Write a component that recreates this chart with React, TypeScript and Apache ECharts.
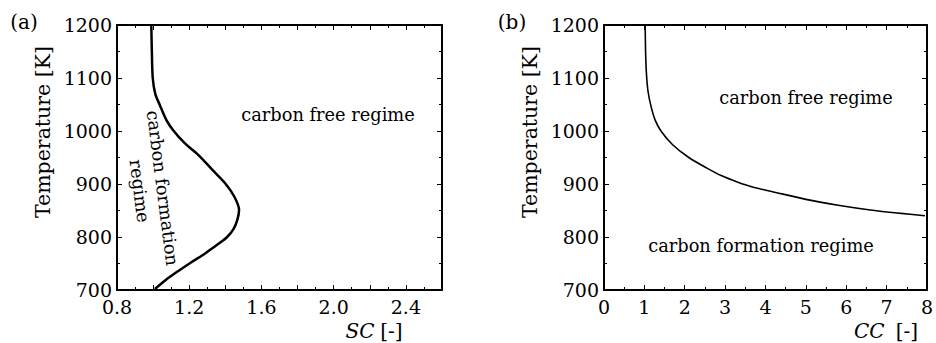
import React, { useEffect, useRef } from "react";
import * as echarts from "echarts";

// Panel (a): steam-to-carbon ratio boundary
const scRatio = [0.99, 0.993, 0.998, 1.012, 1.036, 1.073, 1.11, 1.175, 1.25, 1.33, 1.4, 1.45, 1.476, 1.466, 1.445, 1.41, 1.37, 1.32, 1.28, 1.21, 1.14, 1.07, 1.01];
const scTemp = [1200, 1150, 1100, 1070, 1050, 1021, 1002, 977, 955, 926, 901, 876, 851, 832, 815, 800, 789, 777, 767, 752, 736, 719, 702];

// Panel (b): CC ratio boundary
const ccRatio = [1.02, 1.03, 1.05, 1.09, 1.17, 1.27, 1.42, 1.7, 2.1, 2.55, 2.9, 3.3, 3.7, 4.15, 5.0, 5.8, 6.6, 7.3, 7.95];
const ccTemp = [1200, 1150, 1110, 1075, 1045, 1020, 999, 974, 950, 930, 916, 904, 894, 886, 871, 860, 851, 845, 840];

const tempTicks = { min: 700, max: 1200, interval: 100 };
const scTicks = { min: 0.8, max: 2.6, interval: 0.2, labelStep: 0.4 };
const ccTicks = { min: 0, max: 8, interval: 1 };

const FONT = "DejaVu Serif";

export default function App() {
  const ref = useRef<HTMLDivElement>(null);

  useEffect(() => {
    if (!ref.current) return;
    const chart = echarts.init(ref.current, null, { renderer: "svg" });

    const lineStyle = { color: "#000", width: 2 };
    const tick = { show: true, inside: true, length: 5, lineStyle: { color: "#000", width: 1 } };
    const minor = { show: true, splitNumber: 2, length: 3, lineStyle: { color: "#000", width: 1 } };
    const label = { color: "#000", fontSize: 19, fontFamily: FONT };

    const xAxisBase = (gridIndex: number, position: string, t: any, formatter: any, show: boolean) => ({
      type: "value",
      gridIndex,
      position,
      min: t.min,
      max: t.max,
      interval: t.interval,
      axisLine: { show: true, onZero: false, lineStyle },
      axisTick: tick,
      minorTick: minor,
      splitLine: { show: false },
      minorSplitLine: { show: false },
      axisLabel: show ? { ...label, margin: 7, formatter } : { show: false },
    });
    const yAxisBase = (gridIndex: number, position: string, show: boolean) => ({
      type: "value",
      gridIndex,
      position,
      min: tempTicks.min,
      max: tempTicks.max,
      interval: tempTicks.interval,
      axisLine: { show: true, onZero: false, lineStyle },
      axisTick: tick,
      minorTick: minor,
      splitLine: { show: false },
      minorSplitLine: { show: false },
      axisLabel: show ? { ...label, margin: 5, formatter: (v: number) => String(v) } : { show: false },
    });

    const scFmt = (v: number) => {
      const k = Math.round(v * 10);
      return k % Math.round(scTicks.labelStep * 10) === 0 ? v.toFixed(1) : "";
    };
    const ccFmt = (v: number) => String(v);

    const text = (x: number, y: number, s: any, extra: any = {}) => ({
      type: "text",
      x,
      y,
      ...extra,
      style: {
        text: s,
        fill: "#000",
        fontSize: 17.8,
        fontFamily: FONT,
        align: "center",
        verticalAlign: "middle",
        ...(extra.style || {}),
      },
    });
    const rot = -1.4434;
    const italic = { fontStyle: "italic", fontSize: 20, fontFamily: FONT, fill: "#000" };
    const plain = { fontSize: 20, fontFamily: FONT, fill: "#000" };

    chart.setOption({
      animation: false,
      grid: [
        { left: 117, top: 25, width: 325, height: 265 },
        { left: 604, top: 25, width: 326, height: 265 },
      ],
      xAxis: [
        xAxisBase(0, "bottom", scTicks, scFmt, true),
        xAxisBase(0, "top", scTicks, scFmt, false),
        xAxisBase(1, "bottom", ccTicks, ccFmt, true),
        xAxisBase(1, "top", ccTicks, ccFmt, false),
      ],
      yAxis: [
        yAxisBase(0, "left", true),
        yAxisBase(0, "right", false),
        yAxisBase(1, "left", true),
        yAxisBase(1, "right", false),
      ],
      series: [
        {
          type: "line",
          xAxisIndex: 0,
          yAxisIndex: 0,
          data: scRatio.map((x, i) => [x, scTemp[i]]),
          showSymbol: false,
          smooth: 0.3,
          lineStyle: { color: "#000", width: 2.5 },
        },
        {
          type: "line",
          xAxisIndex: 2,
          yAxisIndex: 2,
          data: ccRatio.map((x, i) => [x, ccTemp[i]]),
          showSymbol: false,
          smooth: 0.3,
          lineStyle: { color: "#000", width: 1.6 },
        },
      ],
      graphic: [
        text(24, 22, "(a)", { style: { fontSize: 20 } }),
        text(512, 22, "(b)", { style: { fontSize: 20 } }),
        text(43, 132, "Temperature [K]", { rotation: Math.PI / 2, style: { fontSize: 20.5 } }),
        text(530, 132, "Temperature [K]", { rotation: Math.PI / 2, style: { fontSize: 20.5 } }),
        text(374, 331, "{i|SC} {p|[-]}", { style: { rich: { i: italic, p: plain } } }),
        text(886, 331, "{i|CC}  {p|[-]}", { style: { rich: { i: italic, p: plain } } }),
        text(328, 114, "carbon free regime"),
        text(163, 188, "carbon formation", { rotation: rot }),
        text(140, 191, "regime", { rotation: rot }),
        text(806, 97, "carbon free regime"),
        text(761, 245, "carbon formation regime"),
      ],
    });

    return () => chart.dispose();
  }, []);

  return (
    <div
      ref={ref}
      style={{ position: "fixed", left: 0, top: 0, width: 936, height: 343, background: "#fff" }}
    />
  );
}
